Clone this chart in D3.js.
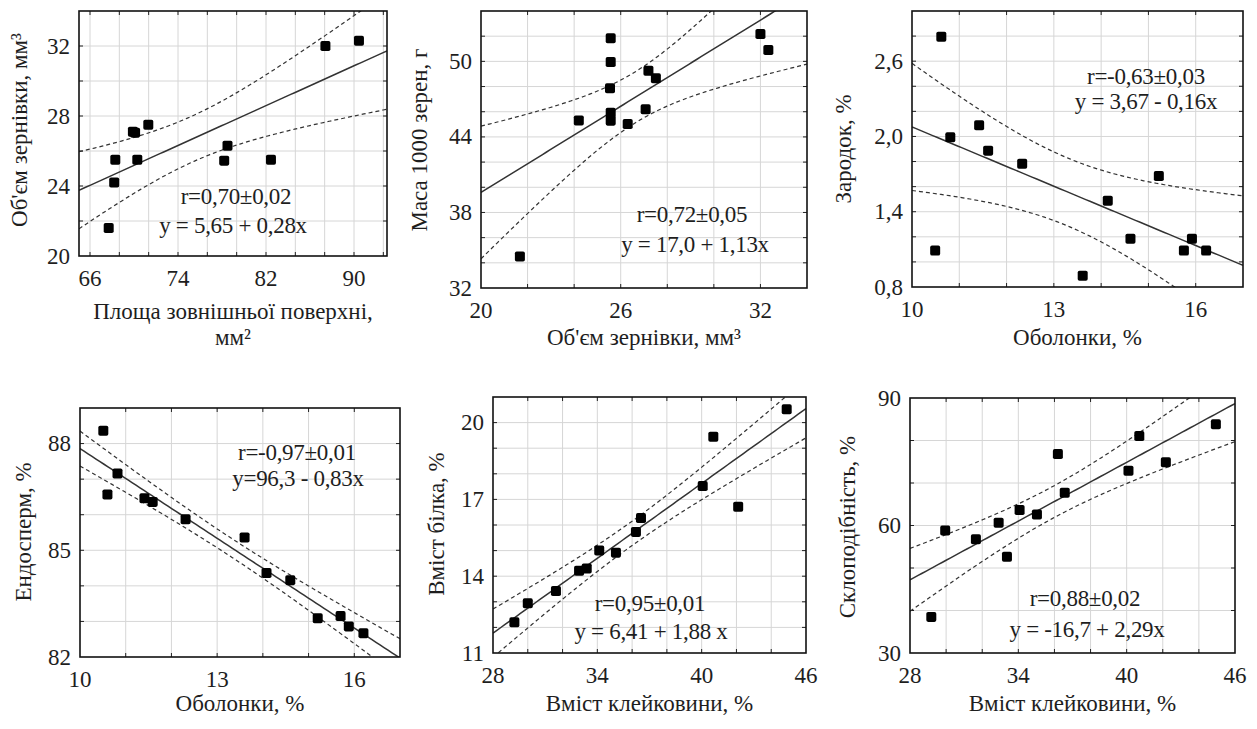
<!DOCTYPE html>
<html><head><meta charset="utf-8">
<script src="https://cdn.jsdelivr.net/npm/d3@7"></script>
<style>
html,body{margin:0;padding:0;background:#fff;}
svg{display:block;}
svg text{font-family:"Liberation Serif","DejaVu Serif","Times New Roman",serif;}
</style></head>
<body>
<svg id="chart" width="1257" height="729"></svg>
<script>
// ---------------- DATA ----------------
// Panel 1: area of outer surface (mm²) vs grain volume (mm³)
const p1X = [67.7, 68.2, 68.3, 69.9, 70.1, 70.3, 71.3, 78.2, 78.5, 82.45, 87.4, 90.45];
const p1Y = [21.6, 24.2, 25.5, 27.1, 27.05, 25.5, 27.5, 25.45, 26.3, 25.5, 32.0, 32.3];
// Panel 2: grain volume vs mass of 1000 grains
const p2X = [21.67, 24.2, 25.57, 25.57, 25.54, 25.57, 25.57, 26.3, 27.07, 27.19, 27.51, 32.0, 32.34];
const p2Y = [34.5, 45.3, 51.83, 49.95, 47.86, 45.92, 45.29, 45.03, 46.2, 49.26, 48.65, 52.17, 50.9];
// Panel 3: hulls vs germ
const p3X = [10.62, 10.49, 10.81, 11.42, 11.61, 12.33, 13.61, 14.14, 14.62, 15.22, 15.75, 15.92, 16.22];
const p3Y = [2.795, 1.09, 1.993, 2.089, 1.887, 1.783, 0.89, 1.488, 1.185, 1.685, 1.09, 1.185, 1.09];
// Panel 4: hulls vs endosperm
const p4X = [10.51, 10.6, 10.82, 11.41, 11.59, 12.31, 13.6, 14.08, 14.6, 15.2, 15.7, 15.88, 16.2];
const p4Y = [88.36, 86.57, 87.16, 86.46, 86.36, 85.87, 85.36, 84.36, 84.16, 83.09, 83.15, 82.86, 82.67];
// Panel 5: gluten vs protein
const p5X = [29.23, 30.0, 31.62, 32.95, 33.39, 34.11, 35.07, 36.22, 36.51, 40.06, 40.67, 42.1, 44.89];
const p5Y = [12.2, 12.94, 13.42, 14.21, 14.3, 15.0, 14.92, 15.73, 16.27, 17.52, 19.45, 16.71, 20.52];
// Panel 6: gluten vs vitreousness
const p6X = [29.18, 29.95, 31.65, 32.91, 33.37, 34.07, 35.03, 36.19, 36.57, 40.1, 40.7, 42.17, 44.94];
const p6Y = [38.5, 58.8, 56.75, 60.66, 52.66, 63.65, 62.6, 76.8, 67.7, 72.9, 81.06, 74.87, 83.8];

// Tick values and labels
const p1XTicks = [66, 74, 82, 90];
const p1YTicks = [20, 24, 28, 32];
const p2XTicks = [20, 26, 32];
const p2YTicks = [32, 38, 44, 50];
const p3XTicks = [10, 13, 16];
const p3YTicks = [0.8, 1.4, 2.0, 2.6];
const p3YTickLabels = ["0,8", "1,4", "2,0", "2,6"];
const p4XTicks = [10, 13, 16];
const p4YTicks = [82, 85, 88];
const p5XTicks = [28, 34, 40, 46];
const p5YTicks = [11, 14, 17, 20];
const p6XTicks = [28, 34, 40, 46];
const p6YTicks = [30, 60, 90];

// Axis titles
const xTitles = [
  ["Площа зовнішньої поверхні,", "мм²"],
  ["Об'єм зернівки, мм³"],
  ["Оболонки, %"],
  ["Оболонки, %"],
  ["Вміст клейковини, %"],
  ["Вміст клейковини, %"]
];
const yTitles = ["Об'єм зернівки, мм³", "Маса 1000 зерен, г", "Зародок, %", "Ендосперм, %", "Вміст білка, %", "Склоподібність, %"];
// Annotations
const rTexts = ["r=0,70±0,02", "r=0,72±0,05", "r=-0,63±0,03", "r=-0,97±0,01", "r=0,95±0,01", "r=0,88±0,02"];
const eqTexts = ["y = 5,65 + 0,28x", "y = 17,0 + 1,13x", "y = 3,67 - 0,16x", "y=96,3 - 0,83x", "y = 6,41 + 1,88 x", "y = -16,7 + 2,29x"];

// ---------------- LAYOUT ----------------
const FS = 23;
const panels = [
  {xs:p1X, ys:p1Y, xt:p1XTicks, yt:p1YTicks, x0:79, x1:387, y0:11, y1:256, xd:[65,93], yd:[20,34], gx:{a:66, s:8/3}, gy:{a:20, s:2}, ytx:19, yty:130, xty:[311,337], ann:[[236,196],[233,225]]},
  {xs:p2X, ys:p2Y, xt:p2XTicks, yt:p2YTicks, x0:481, x1:807, y0:11, y1:288, xd:[20,34], yd:[32,54], gx:{a:20, s:2}, gy:{a:32, s:2}, ytx:419, yty:140, xty:[337], ann:[[692,214],[695,244]]},
  {xs:p3X, ys:p3Y, xt:p3XTicks, yt:p3YTicks, ytl:p3YTickLabels, x0:912, x1:1243, y0:11, y1:287, xd:[10,17], yd:[0.8,3.0], gx:{a:10, s:1}, gy:{a:0.8, s:0.2}, ytx:843, yty:149, xty:[337], ann:[[1146,76],[1146,101]]},
  {xs:p4X, ys:p4Y, xt:p4XTicks, yt:p4YTicks, x0:80, x1:400, y0:408, y1:657, xd:[10,17], yd:[82,89], gx:{a:10, s:1}, gy:{a:82, s:1}, ytx:23, yty:532, xty:[703], ann:[[297,452],[298,478]]},
  {xs:p5X, ys:p5Y, xt:p5XTicks, yt:p5YTicks, x0:493, x1:806, y0:397, y1:653, xd:[28,46], yd:[11,21], gx:{a:28, s:2}, gy:{a:11, s:1}, ytx:436, yty:524, xty:[703], ann:[[650,603],[651,631]]},
  {xs:p6X, ys:p6Y, xt:p6XTicks, yt:p6YTicks, x0:910, x1:1235, y0:398, y1:653, xd:[28,46], yd:[30,90], gx:{a:28, s:2}, gy:{a:30, s:10}, ytx:847, yty:527, xty:[703], ann:[[1085,598],[1087,629]]}
];
const T975 = {10: 2.228, 11: 2.201, 12: 2.179};

function linFit(xs, ys) {
  const n = xs.length;
  const mx = d3.mean(xs), my = d3.mean(ys);
  let sxx = 0, sxy = 0;
  for (let i = 0; i < n; i++) { sxx += (xs[i]-mx)**2; sxy += (xs[i]-mx)*(ys[i]-my); }
  const b = sxy / sxx, a = my - b * mx;
  let sse = 0;
  for (let i = 0; i < n; i++) sse += (ys[i] - a - b*xs[i])**2;
  const s = Math.sqrt(sse / (n - 2));
  const t = T975[n - 2] || 2.2;
  return {a, b, hw: x => t * s * Math.sqrt(1/n + (x-mx)**2 / sxx)};
}

function gridVals(dom, g) {
  const out = [];
  const k0 = Math.ceil((dom[0] - g.a) / g.s - 1e-6);
  for (let k = k0; ; k++) {
    const v = g.a + k * g.s;
    if (v > dom[1] + 1e-6) break;
    if (v > dom[0] + 1e-6 && v < dom[1] - 1e-6) out.push(v);
  }
  return out;
}

const svg = d3.select("#chart");
svg.append("rect").attr("width", 1257).attr("height", 729).attr("fill", "#fff");
const defs = svg.append("defs");

function txt(sel) {
  return sel.style("font-family", '"Liberation Serif","DejaVu Serif",serif')
    .attr("font-size", FS).attr("fill", "#1e1e1e");
}

panels.forEach((p, i) => {
  const x = d3.scaleLinear().domain(p.xd).range([p.x0, p.x1]);
  const y = d3.scaleLinear().domain(p.yd).range([p.y1, p.y0]);
  const g = svg.append("g");
  const cid = "clip" + i;
  defs.append("clipPath").attr("id", cid).append("rect")
    .attr("x", p.x0).attr("y", p.y0).attr("width", p.x1 - p.x0).attr("height", p.y1 - p.y0);

  const gxv = gridVals(p.xd, p.gx), gyv = gridVals(p.yd, p.gy);
  // grid lines
  g.append("g").selectAll("line").data(gxv).join("line")
    .attr("x1", d => x(d)).attr("x2", d => x(d)).attr("y1", p.y0).attr("y2", p.y1)
    .attr("stroke", "#d6d6d6").attr("stroke-width", 1);
  g.append("g").selectAll("line").data(gyv).join("line")
    .attr("y1", d => y(d)).attr("y2", d => y(d)).attr("x1", p.x0).attr("x2", p.x1)
    .attr("stroke", "#d6d6d6").attr("stroke-width", 1);
  // inward tick marks on all sides
  const tk = 4;
  const tg = g.append("g").attr("stroke", "#222").attr("stroke-width", 1);
  gxv.forEach(v => {
    tg.append("line").attr("x1", x(v)).attr("x2", x(v)).attr("y1", p.y1).attr("y2", p.y1 - tk);
    tg.append("line").attr("x1", x(v)).attr("x2", x(v)).attr("y1", p.y0).attr("y2", p.y0 + tk);
  });
  gyv.forEach(v => {
    tg.append("line").attr("y1", y(v)).attr("y2", y(v)).attr("x1", p.x0).attr("x2", p.x0 + tk);
    tg.append("line").attr("y1", y(v)).attr("y2", y(v)).attr("x1", p.x1).attr("x2", p.x1 - tk);
  });

  // regression + confidence band
  const f = linFit(p.xs, p.ys);
  const samples = d3.range(0, 81).map(k => p.xd[0] + (p.xd[1] - p.xd[0]) * k / 80);
  const lg = g.append("g").attr("clip-path", `url(#${cid})`);
  const line = d3.line().x(d => x(d[0])).y(d => y(d[1]));
  lg.append("path").datum(samples.map(v => [v, f.a + f.b * v]))
    .attr("d", line).attr("fill", "none").attr("stroke", "#333").attr("stroke-width", 1.5);
  [1, -1].forEach(sg => {
    lg.append("path").datum(samples.map(v => [v, f.a + f.b * v + sg * f.hw(v)]))
      .attr("d", line).attr("fill", "none").attr("stroke", "#333").attr("stroke-width", 1.2)
      .attr("stroke-dasharray", "4,3");
  });

  // points
  g.append("g").selectAll("rect").data(p.xs.map((v, k) => [v, p.ys[k]])).join("rect")
    .attr("x", d => x(d[0]) - 5).attr("y", d => y(d[1]) - 5)
    .attr("width", 10).attr("height", 10).attr("rx", 1.8).attr("fill", "#000");

  // frame
  g.append("rect").attr("x", p.x0).attr("y", p.y0).attr("width", p.x1 - p.x0).attr("height", p.y1 - p.y0)
    .attr("fill", "none").attr("stroke", "#111").attr("stroke-width", 1.6);

  // tick labels
  txt(g.append("g").selectAll("text").data(p.xt).join("text")
    .attr("x", d => x(d)).attr("y", p.y1 + 22).attr("text-anchor", "middle")
    .attr("dominant-baseline", "central")).text(d => d);
  txt(g.append("g").selectAll("text").data(p.yt).join("text")
    .attr("x", p.x0 - 9).attr("y", d => y(d)).attr("text-anchor", "end")
    .attr("dominant-baseline", "central")).text((d, k) => p.ytl ? p.ytl[k] : d);

  // x title
  const xc = (p.x0 + p.x1) / 2;
  xTitles[i].forEach((s, k) => {
    txt(g.append("text").attr("x", xc).attr("y", p.xty[k]).attr("text-anchor", "middle")
      .attr("dominant-baseline", "central")).text(s);
  });
  // y title
  txt(g.append("text").attr("transform", `translate(${p.ytx},${p.yty}) rotate(-90)`)
    .attr("text-anchor", "middle").attr("dominant-baseline", "central")).text(yTitles[i]);

  // annotations
  [rTexts[i], eqTexts[i]].forEach((s, k) => {
    txt(g.append("text").attr("x", p.ann[k][0]).attr("y", p.ann[k][1]).attr("text-anchor", "middle")
      .attr("dominant-baseline", "central").attr("letter-spacing", -0.3)).text(s);
  });
});
</script>
</body></html>
